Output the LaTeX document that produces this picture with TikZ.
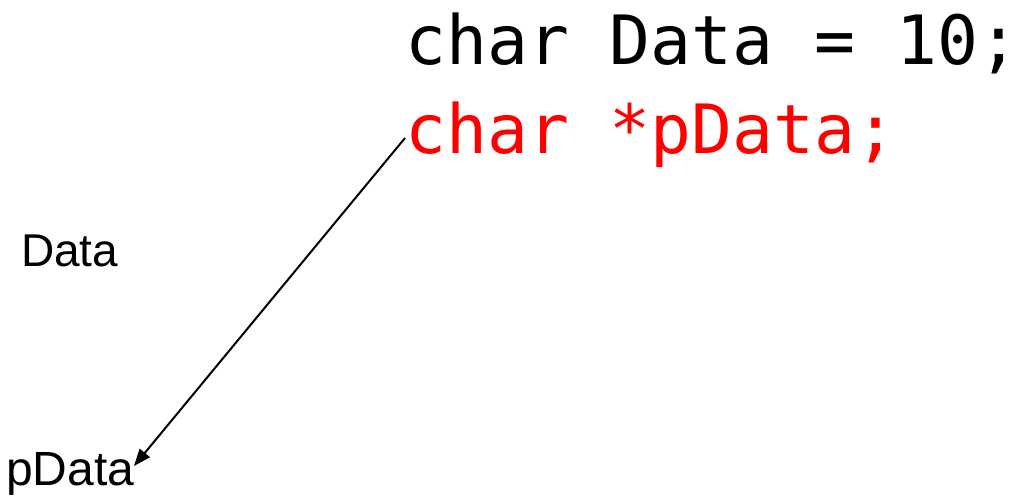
\documentclass[tikz,border=0pt]{standalone}
\usepackage{fontspec}
\setmainfont{Liberation Sans}
\setmonofont{DejaVu Sans Mono}
\usetikzlibrary{arrows.meta}
\definecolor{codered}{RGB}{255,0,0}
\begin{document}
\begin{tikzpicture}[x=1pt,y=1pt,
  code/.style={anchor=base west,inner sep=0pt,font=\fontsize{68}{80}\selectfont\ttfamily},
  lbl/.style={anchor=base west,inner sep=0pt,font=\fontsize{46}{54}\selectfont},
  ptr/.style={line width=2pt,-{Triangle[length=17pt,width=13pt]}}]
\useasboundingbox (0,0) rectangle (1020,-496);
\node[code] (line1) at (405,-64) {char Data = 10;};
\node[code,text=codered] (line2) at (405,-153) {char *pData;};
\node[lbl] (data) at (21,-266) {Data};
\node[lbl,font=\fontsize{48}{56}\selectfont] (pdata) at (6,-485) {pData};
\coordinate (from) at (405,-138);
\coordinate (to) at (134,-466);
\draw[ptr] (from) -- (to);
\end{tikzpicture}
\end{document}
